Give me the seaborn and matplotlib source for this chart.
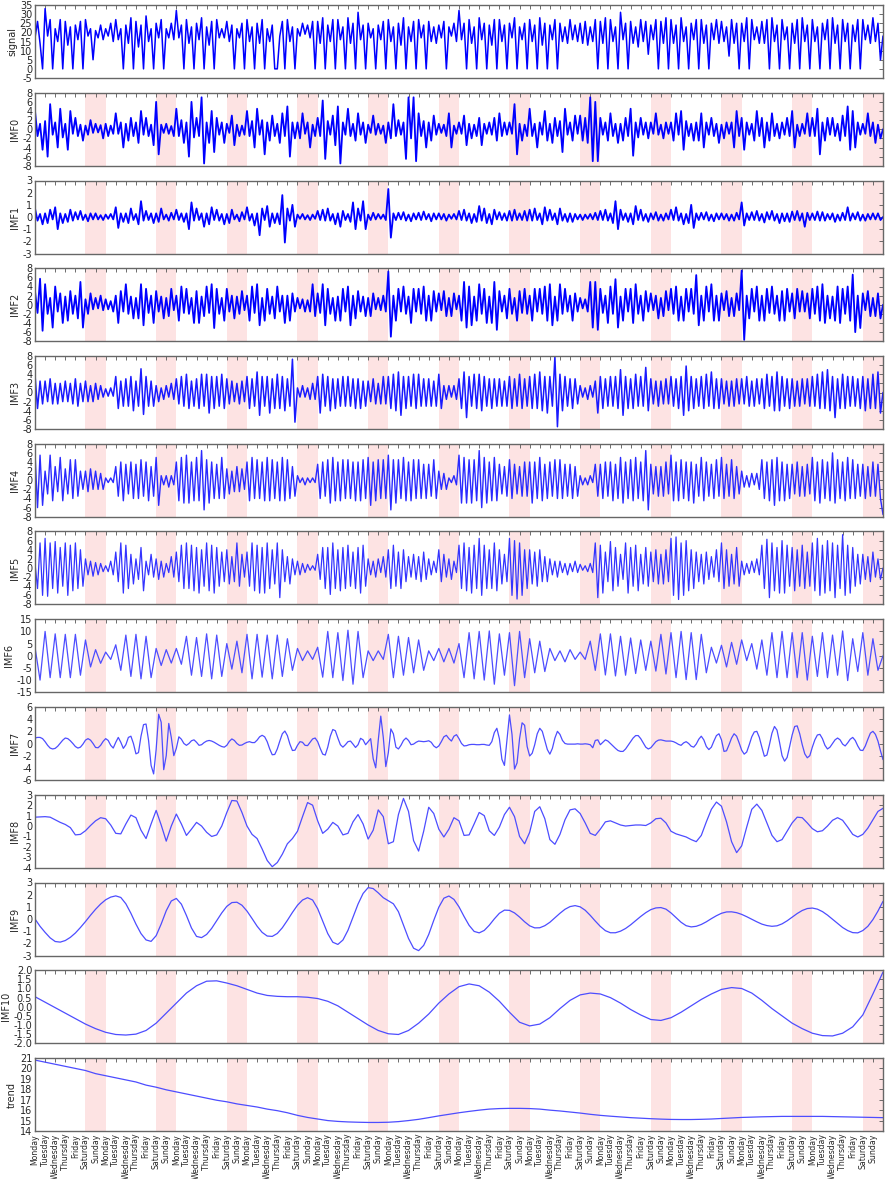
import numpy as np
import matplotlib
matplotlib.use("Agg")
import matplotlib.pyplot as plt
import seaborn as sns

# ---------------- data ----------------
weekdays = ["Monday", "Tuesday", "Wednesday", "Thursday", "Friday", "Saturday", "Sunday"]
n_weeks = 12
day_labels = weekdays * n_weeks

# signal, 4 samples per day
signal = [
    17, 26, 14, 0, 33, 18, 27, 0, 22, 15, 27, 0, 26, 13, 23, 0, 24, 16, 26, 0, 27, 18, 22, 5, 21, 17, 24, 16,
    22, 18, 25, 15, 27, 16, 22, 0, 24, 14, 28, 0, 26, 12, 24, 0, 29, 15, 22, 0, 25, 17, 27, 0, 22, 17, 25, 16,
    32, 17, 24, 0, 27, 14, 23, 0, 25, 16, 28, 0, 23, 13, 26, 0, 27, 17, 22, 17, 26, 15, 24, 0, 22, 17, 25, 0,
    27, 15, 23, 0, 25, 14, 27, 0, 22, 15, 24, 0, 0, 18, 26, 0, 27, 15, 23, 0, 22, 18, 25, 19, 24, 17, 26, 0,
    26, 14, 28, 0, 24, 15, 27, 0, 27, 16, 23, 0, 28, 14, 25, 0, 31, 16, 24, 0, 25, 17, 22, 0, 24, 16, 26, 0,
    27, 15, 23, 0, 25, 13, 28, 0, 23, 15, 26, 0, 27, 17, 24, 0, 26, 15, 23, 14, 24, 17, 26, 0, 23, 18, 25, 15,
    32, 16, 25, 0, 27, 14, 23, 0, 28, 16, 25, 0, 24, 13, 27, 0, 27, 15, 24, 0, 25, 17, 28, 0, 23, 16, 25, 0,
    27, 15, 24, 0, 28, 13, 25, 0, 24, 16, 27, 0, 25, 15, 23, 14, 27, 16, 24, 15, 25, 14, 26, 13, 23, 15, 27, 0,
    26, 14, 28, 0, 27, 15, 23, 0, 31, 16, 25, 0, 26, 14, 23, 12, 27, 15, 26, 8, 24, 16, 27, 0, 26, 14, 28, 0,
    27, 14, 24, 0, 28, 15, 23, 0, 25, 16, 27, 0, 27, 14, 24, 0, 25, 16, 27, 14, 26, 15, 23, 7, 27, 14, 25, 0,
    25, 15, 28, 0, 27, 16, 23, 14, 26, 14, 27, 0, 28, 15, 24, 0, 27, 16, 23, 0, 25, 14, 27, 0, 28, 15, 24, 0,
    27, 15, 23, 0, 25, 16, 27, 0, 28, 14, 24, 0, 27, 15, 25, 0, 24, 15, 27, 0, 27, 16, 24, 14, 28, 15, 25, 5,
    18]

imf0 = [
    4, -1.5, 1.2, -4.5, 1.8, -6, 5.5, -1.2, 1.5, -4, 4.5, -1.8, 1.2, -4.5, 4, -1, 2.5, -1.5, 1, -2.5, 0.8, -1.2, 2, -0.8, 1.2, -0.7, 0.9, -2,
    1.2, -1.5, 0.8, -1, 3.5, -1, 1.5, -4, 1.2, -2.5, 2.5, -1.5, 1.5, -3, 4, -1.2, 2.5, -1.5, 1, -3.5, 6, -5.5, 1, -0.8, 1.2, -1, 0.7, -1.5,
    4.5, -1.5, 2, -3, 1.5, -6, 6, -1.8, 2.5, -1.5, 7, -7.5, 1.5, -3, 4, -5, 2.5, -1.2, 1.5, -3, 1.2, -0.8, 3, -3.5, 1, -1.5, 0.8, -1.2,
    4, -1.5, 1.8, -4, 4.5, -1.2, 2, -5.5, 1.5, -2.5, 3, -1.5, 1.2, -3, 3.5, -1.5, 5, -6, 1.5, -2, 1.5, -2, 3.5, -1, 1.5, -4, 1, -1.5,
    2.5, -1.5, 6.3, -6.5, 1.8, -1.2, 3, -3.5, 5, -7.5, 1.5, -1.2, 4.5, -1.5, 1.2, -2.5, 3.5, -1.2, 1.5, -3, 1, -0.8, 3, -1.2, 1.2, -1, 0.8, -3,
    1.5, -2, 5.5, -1.5, 2, -1.2, 1.5, -6.5, 7, -2, 7, -7, 3.5, -1.5, 1.8, -4, 1.5, -2.5, 3, -1.2, 1.2, -0.8, 1, -1.5, 3.5, -4, 0.8, -1,
    1.5, -1, 3, -3.5, 1.2, -2, 1, -1.5, 2.5, -3.5, 1.2, -1, 1.5, -1.2, 2.5, -2.5, 3.5, -1.5, 1.5, -1.2, 1.5, -1, 5.5, -5.5, 1.2, -2.5, 1, -1.5,
    4.5, -1.5, 1.2, -4, 1.5, -1.2, 4, -2.5, 1.2, -3, 2.5, -1.5, 1.8, -5, 4.5, -1.2, 1.5, -2.5, 3, -1, 3, -2.5, 2.5, -3, 7, -7, 6, -7,
    2.5, -1.2, 1.5, -2.5, 3.5, -1.5, 1.2, -3, 1.2, -2.5, 2.5, -1.5, 4.5, -5.8, 1.5, -1.8, 2.5, -1.2, 1.5, -2, 1.5, -1, 3.5, -1.2, 1, -2, 1.5, -1,
    1.5, -2.5, 3.5, -1.2, 4, -4.5, 1.8, -1.5, 1.2, -2.5, 1.5, -2.5, 3.5, -4, 1.5, -1.2, 2.5, -1.5, 1.2, -3, 1, -2, 1.5, -1, 1.5, -4, 4, -1.5,
    2.5, -4.5, 1.5, -1.2, 1.2, -2.5, 4, -1.5, 2.5, -4, 1.5, -2.5, 3.5, -1.5, 1.2, -2, 1.5, -1.2, 2.5, -1.5, 4, -4, 1, -1.5, 1.2, -1, 3.5, -1.5,
    2.5, -1.5, 4.5, -5.5, 1.5, -2.5, 2.5, -1.2, 2.5, -1.5, 1.2, -2.5, 3, -1.5, 5, -4.5, 4, -4, 1.5, -1.2, 1.2, -1, 3.5, -1.5, 1.5, -3, 1, -2,
    0]

imf1 = [
    0.7, -0.3, 0.25, -0.6, 0.3, -0.5, 0.6, -0.2, 0.8, -1.0, 0.3, -0.5, 0.25, -0.4, 0.6, -0.3, 0.4, -0.2, 0.5, -0.25, 0.2, -0.35, 0.3, -0.2, 0.3, -0.2, 0.15, -0.25,
    0.2, -0.15, 0.25, -0.2, 0.8, -0.9, 0.3, -0.4, 0.3, -0.5, 0.7, -0.25, 0.25, -0.6, 1.3, -0.3, 0.5, -0.25, 0.3, -0.5, 0.3, -0.4, 0.7, -0.2, 0.2, -0.3, 0.35, -0.2,
    0.6, -0.25, 0.3, -0.4, 0.3, -1.0, 1.2, -0.3, 0.7, -0.25, 0.3, -0.8, 0.3, -0.6, 0.8, -0.25, 0.6, -0.3, 0.25, -0.6, 0.25, -0.5, 0.6, -0.2, 0.2, -0.35, 0.4, -0.2,
    0.8, -0.3, 0.25, -0.7, 0.3, -1.5, 0.7, -0.25, 0.9, -0.8, 0.3, -0.5, 0.3, -0.6, 1.8, -2.1, 0.7, -0.3, 1.0, -0.8, 0.2, -0.15, 0.25, -0.2, 0.15, -0.25, 0.2, -0.15,
    0.5, -0.25, 0.6, -0.3, 0.7, -0.3, 0.25, -0.6, 0.3, -0.8, 0.5, -0.25, 0.25, -0.4, 1.2, -1.0, 0.7, -0.3, 1.3, -1.0, 0.2, -0.25, 0.35, -0.2, 0.25, -0.15, 0.2, -0.25,
    2.3, -1.7, 0.3, -0.25, 0.35, -0.2, 0.4, -0.3, 0.2, -0.35, 0.3, -0.2, 0.35, -0.25, 0.45, -0.2, 0.25, -0.35, 0.3, -0.2, 0.3, -0.2, 0.25, -0.3, 0.2, -0.15, 0.25, -0.2,
    0.5, -0.25, 0.6, -0.3, 0.3, -0.5, 0.25, -0.4, 0.9, -0.3, 0.7, -0.5, 0.25, -0.6, 0.6, -0.2, 0.4, -0.25, 0.3, -0.3, 0.5, -0.3, 0.6, -0.25, 0.3, -0.25, 0.5, -0.3,
    0.6, -0.3, 0.7, -0.25, 0.3, -0.6, 0.8, -0.3, 0.6, -0.25, 0.3, -0.6, 0.7, -0.3, 0.25, -0.4, 0.3, -0.4, 0.25, -0.2, 0.2, -0.25, 0.2, -0.15, 0.25, -0.2, 0.35, -0.25,
    0.5, -0.25, 0.6, -0.3, 0.3, -0.5, 1.3, -1.0, 0.6, -0.25, 0.3, -0.4, 0.3, -0.6, 0.9, -0.25, 0.6, -0.3, 0.25, -0.4, 0.3, -0.2, 0.4, -0.3, 0.2, -0.3, 0.3, -0.2,
    0.6, -0.25, 0.8, -0.3, 0.3, -0.6, 0.25, -0.5, 1.0, -0.9, 0.3, -0.25, 0.35, -0.2, 0.4, -0.3, 0.2, -0.35, 0.3, -0.2, 0.3, -0.2, 0.25, -0.3, 0.2, -0.3, 0.35, -0.2,
    1.2, -0.7, 0.3, -0.25, 0.4, -0.25, 0.5, -0.3, 0.25, -0.45, 0.4, -0.2, 0.5, -0.3, 0.25, -0.5, 0.3, -0.35, 0.3, -0.4, 0.45, -0.25, 0.5, -0.3, 0.3, -0.8, 0.35, -0.25,
    0.3, -0.25, 0.45, -0.3, 0.4, -0.3, 0.25, -0.2, 0.3, -0.4, 0.2, -0.3, 0.35, -0.25, 0.8, -0.3, 0.3, -0.2, 0.4, -0.3, 0.2, -0.3, 0.25, -0.2, 0.3, -0.2, 0.3, -0.25,
    0]

imf2 = [
    3, -1.8, 5.7, -5.7, 4.5, -2, 1.5, -5, 4, -1.5, 2.5, -4, 1.8, -3.5, 3, -2, 2, -3, 5, -5, 1.2, -2, 2.5, -1, 1.5, -0.8, 2, -1.2,
    1.2, -1, 0.8, -1.5, 2, -4, 3, -1.5, 4.5, -2, 1.8, -3, 1.5, -3, 4.5, -4.5, 3.5, -1.8, 2, -4, 3, -1.5, 1.8, -3, 1.5, -2.5, 3.5, -1.2,
    2, -3.5, 4, -1.8, 3.5, -2, 1.5, -4, 3, -4, 1.8, -2.5, 4, -1.8, 4.5, -5.1, 3.5, -2, 1.5, -3.5, 3.5, -1.5, 2, -3, 1.8, -2, 3, -1.2,
    2, -3.5, 4, -1.8, 4.5, -4.5, 1.5, -3.5, 3.5, -2, 1.8, -3, 4, -1.5, 2, -4, 2, -3.5, 2.5, -1.5, 1.5, -0.8, 1.2, -1.5, 1, -1.5, 4.5, -2.5,
    2.5, -1.8, 4.5, -4.5, 3.5, -2, 1.5, -3.5, 1.8, -3.5, 3.5, -1.5, 4, -4.5, 2, -3, 3, -1.5, 1.8, -2.5, 1.5, -2.5, 2.5, -1, 1.5, -1.2, 2, -1.5,
    7.3, -7, 2, -3.5, 3.5, -1.5, 4, -2, 1.8, -4, 3.5, -1.5, 3.5, -2, 4, -3.5, 2, -3.5, 3, -1.5, 2.5, -1.2, 3, -2.5, 1.5, -2.5, 2.5, -1,
    2, -3.5, 5, -5, 4, -4.5, 1.8, -3.5, 4.5, -2, 3.5, -4, 1.8, -4, 5, -5.5, 3, -1.5, 2, -3, 3.5, -2, 1.5, -3.5, 3, -1.8, 3.5, -2,
    2, -3.5, 3.5, -1.5, 3.5, -2, 4, -3.5, 4.5, -4.5, 1.8, -3.5, 4.5, -2, 3.5, -1.5, 2, -3.5, 2.5, -1.5, 1.5, -0.8, 1.2, -1.5, 5, -5, 5, -5.5,
    3.5, -1.8, 2, -4, 4, -2, 5.6, -5, 1.8, -3.5, 3.5, -1.5, 3.5, -4, 4.5, -2, 2, -3.5, 3, -1.5, 2.5, -1.2, 2, -3, 1.5, -2.5, 3, -1.2,
    3.5, -2, 4, -3.5, 1.8, -3.5, 3.5, -1.5, 3.5, -2, 6.5, -4.5, 2, -3.5, 4, -1.5, 4.5, -3.5, 2, -3.5, 2.5, -1.2, 3, -2.5, 1.5, -2.5, 2.5, -1.2,
    7.5, -7.7, 2, -3, 3.5, -1.5, 4, -3.5, 2, -3.5, 3.5, -1.8, 4, -2, 2, -3.5, 3, -3.5, 3.5, -1.5, 2.5, -3, 3.5, -1.5, 3, -1.5, 2.5, -3,
    3.5, -2, 4, -3.5, 4.5, -4, 2, -3, 1.8, -3.5, 4, -4, 3.5, -2, 4, -3.5, 6.6, -6, 2, -5.1, 2.5, -1.2, 3, -2.5, 1.5, -2.5, 2.5, -3,
    0]

imf3 = [
    3.9, -3.5, 2.5, -2.5, 2.5, -2, 3, -2.5, 2, -2.5, 2, -2, 2.5, -2, 2, -2.5, 3, -3, 2, -2, 2.5, -2, 1.5, -2, 2, -1.5, 1.5, -1,
    0.8, -0.8, 1, -0.8, 3.5, -3.5, 2.5, -3, 3, -3, 3.5, -4, 2.5, -3, 5.2, -4.8, 3.5, -3, 2.5, -3, 1.5, -2, 1, -1.5, 1.5, -1, 2, -1.5,
    3, -2.5, 3.5, -3, 4, -3.5, 2.5, -3, 3, -3.5, 4, -3, 4, -4.5, 3.5, -3.5, 3.5, -3, 4, -3.5, 3, -2.5, 2.5, -2, 2, -2.5, 2.5, -2,
    3.5, -3.5, 3, -3, 4.5, -5, 3.5, -3, 3.5, -4.5, 3, -3.5, 4, -3.5, 3.5, -4, 3, -3, 7.3, -6.5, 1, -1, 1.5, -1, 1, -1.5, 2, -1.5,
    3.5, -4.5, 4, -3, 3.5, -4, 3, -3.5, 3, -3, 3.5, -3, 3.5, -3, 3, -3.5, 3, -3.5, 2.5, -3, 2.5, -2, 3, -2.5, 2, -2.5, 3.5, -2.5,
    3.5, -3.5, 4, -4, 4.5, -5, 3.5, -3.5, 3.5, -3, 4, -3.5, 4, -3, 3, -3, 3, -3, 2.5, -3, 4, -3.5, 1.5, -1.5, 1.5, -1, 1.5, -1.5,
    3, -3.5, 4.5, -5.5, 3.5, -3, 4, -3.5, 4, -4, 3.5, -3, 3, -3.5, 3, -3, 3, -3, 2.5, -3, 3.5, -3.5, 3, -3, 4, -3.5, 3, -3,
    3.5, -3.5, 4, -3.5, 4.5, -4, 3.5, -4.5, 3.5, -3, 7.9, -7.5, 4, -4, 3.5, -3, 3, -3.5, 3, -2.5, 1.5, -1, 1, -1.5, 1.5, -1, 2.5, -4.5,
    3.5, -3.5, 3, -3, 3.5, -3, 3.5, -3.5, 5, -5, 3.5, -3.5, 3, -3.5, 4, -3, 3.5, -3, 5.5, -4, 3, -2.5, 2.5, -3, 2.5, -2.5, 3, -2.5,
    3.5, -3, 3, -3.5, 3.5, -5, 5.8, -4, 3.5, -3.5, 3, -3, 3.5, -3.5, 4, -3, 4.5, -3.5, 3, -3.5, 3, -2.5, 2.5, -3, 2.5, -3, 3, -2.5,
    3, -2.5, 3.5, -3, 2.5, -3, 3, -2.5, 3, -3.5, 4, -3, 3.5, -4, 4.5, -4, 3.5, -3, 3, -3.5, 3, -3, 2.5, -3, 3, -2.5, 3, -3,
    3.5, -3, 4, -3.5, 4.5, -3.5, 5, -4, 3.5, -5.5, 3, -3.5, 4, -3.5, 3.5, -3, 3.5, -3, 3, -3.5, 3.5, -4, 3, -3.5, 4, -3.5, 4.5, -4.5,
    0]

imf4 = [
    6, -6, 5.5, -5.5, 2, -3, 5.5, -4.5, 3, -2.5, 5, -4.5, 2.5, -3, 4.5, -4, 4.5, -3.5, 2, -2, 2, -2.5, 2.5, -2, 2, -2, 1.5, -2,
    0.5, -0.5, 0.5, -0.5, 3, -3.5, 4, -4.5, 3.5, -3, 4, -4, 3.5, -4, 4.5, -3.5, 4, -4.5, 3, -3.5, 5, -5.5, 1, -1, 1, -1.5, 1, -1,
    4, -4.5, 5, -5, 5.5, -5, 4, -4.5, 5, -4.5, 6.5, -6.5, 4.5, -5, 4, -4, 3.5, -4, 5, -4, 2.5, -3, 2, -2.5, 3, -2.5, 2.5, -2,
    4, -4.5, 5, -4, 4.5, -4, 4, -4.5, 5, -4.5, 4.5, -4, 4, -4.5, 5, -4.5, 4.5, -4, 3, -3.5, 1, -0.5, 0.5, -1, 0.5, -0.5, 0.5, -0.5,
    3.5, -4, 4, -3.5, 4.5, -5, 5, -4.5, 4, -4.5, 4.5, -4, 4.5, -4, 4, -4.5, 4, -4.5, 4.5, -4, 5, -5.5, 4, -4.5, 4.5, -4, 4.5, -4,
    5.5, -6.5, 4.5, -5, 4.5, -4, 5, -4.5, 4, -4.5, 4.5, -4, 4.5, -4, 3.5, -4, 3.5, -3.5, 4.5, -4, 2, -2, 1.5, -2, 0.5, -0.5, 1, -1,
    5.5, -5, 5, -5, 4.5, -5, 4.5, -4.5, 6.5, -6, 5, -5, 4, -4.5, 5, -4.5, 3.5, -3, 3, -3.5, 4.5, -4, 3.5, -3, 3, -3.5, 4, -3.5,
    4, -5, 4, -4, 5, -4.5, 3.5, -4, 4, -3.5, 4.5, -4, 4.5, -4, 3.5, -3.5, 3.5, -4, 3, -3.5, 1, -1, 0.5, -1, 1, -0.5, 3.5, -3.5,
    3.5, -4, 4, -3.5, 4, -4.5, 3.5, -4, 5, -5, 4, -4, 4.5, -4.5, 5, -4, 4, -4.5, 6.5, -6.5, 3.5, -3, 3, -3.5, 3, -3.5, 4, -3,
    5.5, -4.5, 4, -4.5, 4.5, -4, 4, -4.5, 4, -5, 3.5, -3.5, 5, -4.5, 4, -3.5, 3.5, -4, 4.5, -3.5, 5, -4, 3.5, -3.5, 4.5, -4, 3, -3,
    2, -1.5, 1, -1.5, 1.5, -1, 1.5, -2, 4.5, -4, 4, -4.5, 4.5, -5.5, 5, -4.5, 4, -4.5, 3.5, -4, 3.5, -3, 4, -3.5, 3, -3.5, 3.5, -3,
    5, -4.5, 4, -5, 4.5, -4, 4, -4.5, 6, -5, 4.5, -4, 4, -4.5, 5, -4, 4.5, -4, 3.5, -3.5, 3.5, -4, 3, -3.5, 4, -3.5, 3.5, -4,
    -7.5]

imf5 = [
    1, -4.5, 5.5, -6, 6.5, -6.2, 5.5, -4.5, 5.8, -5.5, 4.5, -4, 5.5, -6, 5, -5, 5.5, -4.5, 4, -4, 2, -1.5, 1.5, -1.8, 1.2, -1.5, 1, -0.8,
    0.5, -0.8, 1.5, -1.5, 3.5, -3, 5.5, -5.5, 5, -4.5, 3, -3.5, 2, -2.5, 4.5, -5, 1.5, -1.5, 3, -2, 2, -2.5, 1.5, -2, 1, -1, 2.5, -2,
    3.5, -3, 5, -4.5, 5.5, -4.5, 5, -5, 4.5, -5.5, 4, -4, 5.5, -5, 5, -5.5, 4.5, -4, 3.5, -3, 4, -3.5, 2.5, -3, 5.5, -4, 3, -2,
    3.5, -4, 5.5, -5, 5, -5.5, 4.5, -5.5, 5.5, -4.5, 4, -3.5, 5.5, -6.5, 4, -3, 2.5, -3.5, 2, -1.5, 1.5, -1.5, 1, -1, 0.8, -0.5, 0.5, -0.5,
    3, -2.5, 4.5, -4.5, 4.5, -5.8, 5.5, -4.5, 4, -5, 4.5, -4.5, 5, -4, 3.5, -4.5, 4.5, -5.5, 5, -4, 2, -1.5, 1.5, -2, 2, -1, 2.5, -2,
    4, -4.5, 5, -4, 3.5, -4.5, 4, -3, 2.5, -2, 3, -2.5, 2.5, -3, 3.5, -2.5, 2, -1.5, 1.5, -1, 4, -3, 3, -2, 2, -2.5, 1.5, -1,
    5, -4.5, 5.5, -5, 4.5, -5.5, 5, -4.5, 6.5, -6, 5, -4.5, 4, -4.5, 5.5, -5, 4, -3.5, 3, -3, 6.5, -6, 6, -6.8, 5.5, -6, 4, -4.5,
    4, -3.5, 3.5, -4, 4, -3, 2.5, -3, 2, -1.5, 1.5, -2, 1.5, -1, 1, -1.5, 1, -0.8, 1.5, -1, 0.8, -0.5, 0.5, -0.8, 1, -1, 5.5, -6.5,
    5, -5.5, 3.5, -3, 5.8, -5, 4.5, -4, 3, -2.5, 5.5, -5.5, 4.5, -4, 5, -5, 3, -3.5, 4.5, -4, 3.5, -3, 4, -3.5, 3, -3.5, 4, -3,
    6.5, -6, 6.8, -6.9, 5.5, -6, 6, -5, 4, -4.5, 3.5, -3, 3, -3.5, 3.5, -2.5, 2.5, -2, 4, -3, 5.5, -4.5, 4, -4, 3, -3.5, 4.5, -4,
    1.5, -1.5, 1, -1.2, 1.5, -1, 2, -1.5, 5, -4.5, 6.3, -6.5, 5.5, -5, 4.5, -5.5, 6, -5.5, 5, -4, 4.5, -5, 4, -4, 5, -4.5, 3.5, -4,
    5.5, -5, 6.5, -6, 5, -5.5, 6, -5, 5.5, -6.5, 5, -4.5, 7.3, -6, 5, -5.5, 4.5, -4, 3, -3.5, 3, -2.5, 2.5, -3, 3.5, -2, 2, -2.5,
    0]

# IMF6, 2 samples per day (peak, trough)
imf6 = [
    3.5, -10, 10, -9, 9, -9, 8.8, -9, 8.8, -8, 6.5, -4.6, 2.5, -3.1,
    1.5, -1.5, 4.5, -6, 8.5, -8.5, 8.8, -9.5, 8, -9, 3, -4, 2.5, -3,
    3, -3.5, 8, -8, 7.5, -8.5, 9, -9.5, 8.5, -8.5, 5, -5.5, 6, -7,
    8.8, -9.5, 8.8, -8.8, 8.5, -9.5, 8.5, -8.5, 7, -6, 3, -2, 2, -1.5,
    3.5, -8.8, 10, -9, 9.5, -10.2, 10.5, -11.7, 10, -9, 2, -2, 2, -1.5,
    8.8, -9, 8, -8, 7.5, -7, 6.5, -6, 2, -2, 3, -2.5, 3, -3,
    5, -9, 9.5, -9.5, 10, -10, 10.2, -11.7, 9, -8, 9.5, -12.3, 10, -9,
    7, -7, 6, -6.5, 3, -2, 2, -2.5, 2.5, -1.5, 1.5, -1.5, 6, -6,
    9, -7.9, 9, -8.3, 8, -8, 7.3, -7.3, 6.5, -6, 6, -6.3, 8.8, -7.5,
    9.5, -9, 10, -9.8, 9.5, -9.8, 8.8, -7, 3.5, -3, 4.3, -4.6, 5.5, -3.5,
    6.5, -2, 5, -5.5, 6.5, -8, 9.5, -9, 10, -9, 9.5, -9, 9.5, -10,
    8, -8.5, 9.5, -9, 8.5, -8, 10.2, -10.2, 7, -6.5, 9.5, -8, 7, -6,
    0]

# IMF7, 4 samples per day
imf7 = [
    0.9, 1.0, 1.0, 0.8, 0.3, -0.3, -0.75, -0.9, -0.8, -0.45, 0.05, 0.55, 0.9, 0.8, 0.45, 0.0,
    -0.5, -0.75, -0.6, -0.1, 0.55, 0.8, 0.55, 0.0, -0.65, -0.7, -0.3, 0.35,
    0.8, 0.5, -0.3, -0.75, 0.2, 1.0, 0.2, -0.8, -0.2, 1.0, 1.2, 0.0, -1.7, -1.5, 1.2, 3.1,
    3.2, 0.5, -3.6, -5.0, -1.0, 4.8, 3.5, -4.3, -2.0, 3.3, 1.0, -2.0,
    -0.8, 1.1, 0.7, 0.0, -0.3, 0.0, 0.45, 0.6, 0.2, -0.3, -0.2, 0.15, 0.4, 0.5, 0.4, 0.2,
    -0.05, -0.3, -0.5, -0.6, -0.3, 0.35, 0.75, 0.5, 0.0, -0.3, -0.25, 0.0,
    0.2, 0.3, 0.15, 0.15, 0.55, 1.1, 1.35, 1.1, 0.3, -0.9, -1.85, -1.8, -0.9, 0.4, 1.6, 2.05,
    1.3, -0.1, -1.15, -1.1, -0.3, 0.3, 0.2, -0.3, -0.35, 0.2, 0.75, 0.9,
    0.3, -0.8, -1.75, -1.9, -0.6, 1.2, 2.3, 2.1, 0.9, -0.2, -0.6, -0.2, 0.3, 0.4, -0.1, -0.65,
    -0.2, 0.85, 0.6, -0.2, 0.3, 0.8, -2.5, -4.0, 0.5, 4.5, 1.0, -3.8,
    -1.5, 2.4, 1.6, -0.6, -0.9, -0.3, 0.5, 0.9, 0.5, -0.2, -0.1, 0.2, 0.4, 0.35, 0.3, 0.35,
    0.45, 0.2, -0.4, -0.7, -0.4, 0.3, 1.1, 1.35, 0.8, 0.4, 1.2, 1.45,
    0.8, 0.0, -0.4, -0.35, -0.2, -0.15, -0.15, -0.2, -0.2, -0.15, -0.15, -0.25, -0.3, 0.3, 1.8, 2.5,
    0.8, -2.6, -3.6, 0.5, 4.7, 1.5, -4.2, -3.2, 0.8, 3.4, 3.0, -0.5,
    -2.05, -1.6, -0.2, 1.6, 2.5, 2.0, 0.5, -1.0, -1.75, -0.8, 0.9, 2.0, 1.5, 0.5, 0.0, -0.1,
    -0.1, -0.1, -0.1, -0.05, -0.1, -0.1, -0.05, -0.1, -0.2, -0.7, 0.5, 0.6,
    -0.2, 0.2, 0.6, 0.4, 0.0, -0.4, -0.8, -1.15, -1.3, -1.3, -0.9, -0.3, 0.3, 0.9, 1.3, 1.3,
    0.8, 0.1, -0.6, -0.9, -0.7, -0.2, 0.3, 0.55, 0.6, 0.5, 0.4, 0.4,
    0.4, 0.3, 0.1, -0.15, -0.3, 0.1, 0.3, 0.0, -0.45, -0.6, -0.1, 0.7, 1.2, 0.6, -0.5, -1.0,
    -0.6, 0.4, 1.3, 1.6, 0.6, -1.3, -1.2, -0.2, 0.9, 1.6, 1.2, 0.1,
    -1.1, -1.75, -1.4, -0.2, 1.1, 1.9, 2.0, 1.0, -0.6, -2.1, -1.9, -0.2, 1.7, 2.8, 2.2, 0.2,
    -2.0, -2.9, -2.3, -0.5, 1.4, 2.8, 2.9, 1.6, -0.2, -1.7, -2.35, -2.0,
    -0.6, 0.6, 1.4, 1.5, 0.8, -0.3, -0.9, -0.6, 0.0, 0.6, 0.9, 0.6, -0.1, -0.4, 0.1, 0.7,
    1.0, 0.5, -0.4, -1.1, -1.15, -0.4, 0.7, 1.7, 2.0, 1.5, 0.4, -1.2,
    -2.65]

# IMF8, 2 samples per day
imf8 = [
    0.85, 0.88, 0.9, 0.85, 0.6, 0.35, 0.15, -0.15, -0.85, -0.8, -0.45, 0.05, 0.5, 0.8,
    0.7, 0.1, -0.7, -0.75, 0.2, 1.05, 0.8, -0.4, -1.2, 0.2, 1.5, 0.1, -1.45, 0.0,
    1.15, 0.2, -0.9, -0.3, 0.35, 0.0, -0.6, -1.0, -0.85, 0.0, 1.3, 2.45, 2.4, 1.3,
    0.0, -0.8, -1.2, -2.2, -3.3, -3.9, -3.5, -2.7, -1.7, -1.2, -0.5, 0.9, 2.25, 2.0,
    0.5, -0.7, -0.3, 0.35, 0.0, -0.85, -0.7, 0.4, 1.1, 0.2, -1.25, -0.4, 1.55, 0.9,
    -1.7, -1.5, 1.1, 2.65, 1.4, -1.4, -2.4, -0.5, 1.8, 1.2, -0.3, -1.05, -0.3, 0.8,
    0.5, -0.9, -0.85, 0.2, 1.3, 1.0, -0.45, -0.9, -0.1, 1.1, 1.8, 0.9, -1.0, -1.7,
    -0.6, 1.4, 1.85, 0.7, -1.3, -1.75, -0.8, 0.6, 1.55, 1.65, 1.2, 0.3, -0.7, -0.9,
    -0.3, 0.4, 0.5, 0.3, 0.1, 0.0, 0.05, 0.1, 0.1, 0.05, 0.3, 0.7, 0.75, 0.3,
    -0.5, -0.75, -0.9, -1.05, -1.3, -1.5, -0.9, 0.4, 1.6, 2.3, 1.9, 0.4, -1.5, -2.55,
    -1.9, -0.1, 1.6, 2.1, 1.5, 0.3, -0.9, -1.5, -1.3, -0.5, 0.3, 0.85, 0.8, 0.3,
    -0.25, -0.55, -0.45, 0.0, 0.55, 0.8, 0.55, -0.1, -0.8, -1.05, -0.8, -0.2, 0.6, 1.4,
    1.7]

# IMF9, 2 samples per day
imf9 = [
    0.0, -0.6, -1.1, -1.55, -1.85, -1.9, -1.77, -1.51, -1.15, -0.7, -0.21, 0.31, 0.8, 1.23,
    1.58, 1.8, 1.9, 1.77, 1.25, 0.47, -0.42, -1.2, -1.72, -1.84, -1.37, -0.41, 0.68, 1.48,
    1.69, 1.22, 0.29, -0.74, -1.43, -1.53, -1.27, -0.77, -0.14, 0.5, 1.04, 1.35, 1.38, 1.13,
    0.65, 0.04, -0.59, -1.1, -1.4, -1.43, -1.19, -0.72, -0.11, 0.54, 1.13, 1.56, 1.75, 1.56,
    0.85, -0.18, -1.2, -1.91, -2.09, -1.73, -0.93, 0.14, 1.23, 2.1, 2.58, 2.5, 2.15, 1.75,
    1.5, 1.25, 0.6, -0.5, -1.6, -2.4, -2.6, -2.17, -1.27, -0.11, 0.97, 1.71, 1.89, 1.61,
    1.0, 0.21, -0.52, -1.02, -1.14, -0.94, -0.51, 0.01, 0.47, 0.73, 0.71, 0.5, 0.16, -0.23,
    -0.56, -0.73, -0.72, -0.55, -0.27, 0.1, 0.47, 0.8, 1.02, 1.1, 1.0, 0.72, 0.3, -0.17,
    -0.61, -0.96, -1.13, -1.13, -1.0, -0.78, -0.48, -0.14, 0.21, 0.52, 0.77, 0.91, 0.94, 0.81,
    0.5, 0.11, -0.27, -0.55, -0.65, -0.6, -0.45, -0.23, 0.03, 0.27, 0.47, 0.58, 0.59, 0.52,
    0.38, 0.19, -0.02, -0.23, -0.42, -0.54, -0.6, -0.56, -0.4, -0.15, 0.15, 0.45, 0.7, 0.86,
    0.9, 0.81, 0.61, 0.32, -0.02, -0.37, -0.7, -0.95, -1.12, -1.14, -0.95, -0.6, -0.05, 0.65,
    1.45]

# IMF10, one sample per day
imf10 = [
    0.55, 0.25, -0.05, -0.35, -0.65, -0.95, -1.2, -1.4, -1.52, -1.55, -1.5, -1.3, -0.9, -0.35,
    0.2, 0.75, 1.15, 1.4, 1.42, 1.3, 1.15, 0.95, 0.75, 0.62, 0.57, 0.55, 0.55, 0.52,
    0.45, 0.3, 0.05, -0.3, -0.65, -1.0, -1.3, -1.48, -1.52, -1.3, -0.9, -0.4, 0.2, 0.7,
    1.1, 1.25, 1.15, 0.8, 0.3, -0.3, -0.85, -1.05, -0.95, -0.6, -0.1, 0.35, 0.65, 0.75,
    0.7, 0.5, 0.2, -0.15, -0.45, -0.7, -0.75, -0.6, -0.3, 0.05, 0.4, 0.7, 0.95, 1.05,
    1.0, 0.75, 0.35, -0.1, -0.5, -0.9, -1.2, -1.45, -1.58, -1.6, -1.45, -1.1, -0.45, 0.7,
    1.9]

# trend, one sample per day
trend = [
    20.8, 20.6, 20.4, 20.2, 20.0, 19.8, 19.5, 19.3, 19.1, 18.9, 18.7, 18.4, 18.2, 17.95,
    17.75, 17.55, 17.35, 17.15, 16.95, 16.8, 16.6, 16.45, 16.3, 16.1, 15.95, 15.75, 15.5, 15.3,
    15.15, 15.0, 14.92, 14.87, 14.84, 14.82, 14.82, 14.84, 14.9, 15.0, 15.12, 15.28, 15.45, 15.6,
    15.75, 15.88, 16.0, 16.1, 16.15, 16.17, 16.17, 16.15, 16.1, 16.0, 15.92, 15.82, 15.72, 15.6,
    15.5, 15.42, 15.35, 15.28, 15.23, 15.18, 15.14, 15.11, 15.1, 15.1, 15.12, 15.15, 15.2, 15.25,
    15.3, 15.33, 15.36, 15.38, 15.4, 15.4, 15.4, 15.4, 15.4, 15.38, 15.36, 15.34, 15.32, 15.3,
    15.28]

# ---------------- panel setup ----------------
# (label, values, ymin, ymax, ystep, line width, colour)
panels = [
    ("signal", signal, -5, 35, 5, 1.1, "blue"),
    ("IMF0", imf0, -8, 8, 2, 1.3, "blue"),
    ("IMF1", imf1, -3, 3, 1, 1.3, "blue"),
    ("IMF2", imf2, -8, 8, 2, 1.3, "blue"),
    ("IMF3", imf3, -8, 8, 2, 1.1, "#1a1aff"),
    ("IMF4", imf4, -8, 8, 2, 1.0, "#2a2aff"),
    ("IMF5", imf5, -8, 8, 2, 0.9, "#3333ff"),
    ("IMF6", imf6, -15, 15, 5, 0.9, "#4d4dff"),
    ("IMF7", imf7, -6, 6, 2, 0.9, "#4d4dff"),
    ("IMF8", imf8, -4, 3, 1, 0.9, "#4d4dff"),
    ("IMF9", imf9, -3, 3, 1, 0.9, "#4d4dff"),
    ("IMF10", imf10, -2, 2, 0.5, 0.9, "#4d4dff"),
    ("trend", trend, 14, 21, 1, 0.9, "#4d4dff"),
]

n_days = 7 * n_weeks
weekend_starts = list(range(5, n_days, 7))

sns.set_style("white")
plt.rcParams["font.family"] = ["DejaVu Sans"]
plt.rcParams["axes.unicode_minus"] = False

W, H = 889, 1179
fig = plt.figure(figsize=(W / 100, H / 100), dpi=100)

left_px, right_px = 35, 883
top0, step_px, h_px = 5, 87.75, 73

for i, (name, vals, ymin, ymax, ystep, lw, col) in enumerate(panels):
    top = top0 + step_px * i
    ax = fig.add_axes([left_px / W, 1 - (top + h_px) / H, (right_px - left_px) / W, h_px / H])
    t = np.linspace(0, n_days, len(vals))

    if i > 0:
        for s in weekend_starts:
            ax.axvspan(s, s + 2, color="#fde3e3", lw=0, zorder=0)

    sns.lineplot(x=t, y=vals, ax=ax, color=col, lw=lw,
                 estimator=None, sort=False)

    ax.set_xlim(0, n_days)
    ax.set_ylim(ymin, ymax)
    ax.set_yticks(np.arange(ymin, ymax + ystep / 2, ystep))
    ax.set_xticks(range(n_days))
    ax.set_ylabel(name, fontsize=7, labelpad=2)
    ax.tick_params(direction="in", top=True, right=True, length=3, width=0.6,
                   color="#555555", labelsize=7, pad=2)
    for sp in ax.spines.values():
        sp.set_color("#666666")
        sp.set_linewidth(1.0)

    if i == len(panels) - 1:
        ax.set_xticklabels(day_labels, rotation=90, fontsize=5.6)
    else:
        ax.tick_params(labelbottom=False)

fig.savefig("out.png", dpi=100)
